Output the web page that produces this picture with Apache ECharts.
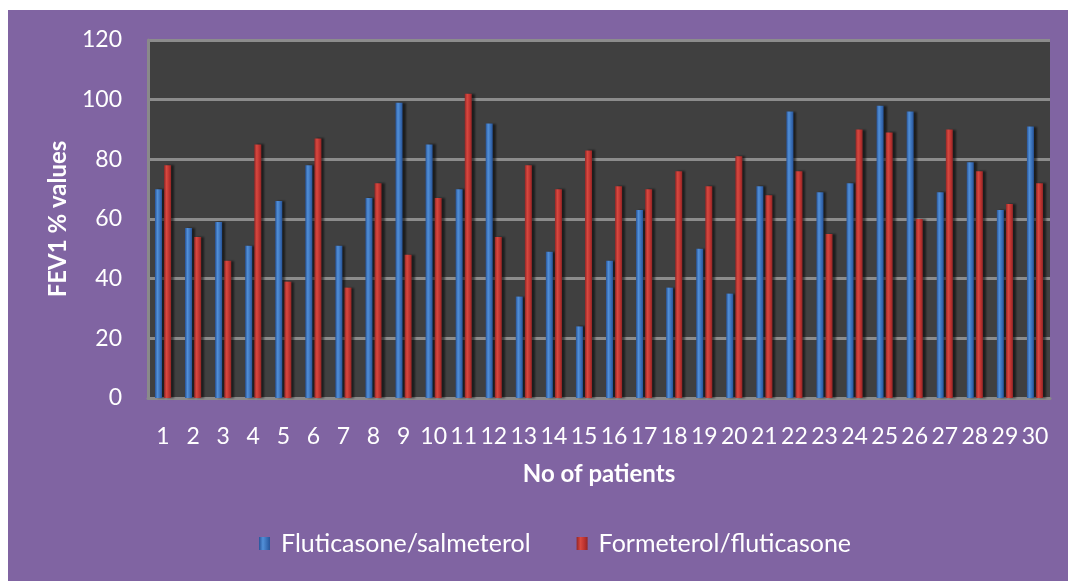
<!DOCTYPE html>
<html>
<head>
<meta charset="utf-8">
<script src="https://cdn.jsdelivr.net/npm/echarts@6/dist/echarts.min.js"></script>
<style>
  html, body { margin: 0; padding: 0; background: #ffffff; }
  #frame { position: absolute; left: 8px; top: 10px; width: 1060px; height: 571px; background: #8064a2; }
  #chart { position: absolute; left: 0; top: 0; width: 1068px; height: 581px; }
</style>
</head>
<body>
<div id="frame"></div>
<div id="chart"></div>
<script>
// FEV1 % values for 30 patients under two inhaler regimens
const patients = ['1','2','3','4','5','6','7','8','9','10','11','12','13','14','15','16','17','18','19','20','21','22','23','24','25','26','27','28','29','30'];
const fluticasoneSalmeterol = [70,57,59,51,66,78,51,67,99,85,70,92,34,49,24,46,63,37,50,35,71,96,69,72,98,96,69,79,63,91];
const formeterolFluticasone = [78,54,46,85,39,87,37,72,48,67,102,54,78,70,83,71,70,76,71,81,68,76,55,90,89,60,90,76,65,72];
const seriesNames = ['Fluticasone/salmeterol', 'Formeterol/fluticasone'];
const yTicks = { min: 0, max: 120, interval: 20 };

const FONT = 'Lato, "Open Sans", sans-serif';

function cylinder(dark, mid, light) {
  return new echarts.graphic.LinearGradient(0, 0, 1, 0, [
    { offset: 0, color: dark },
    { offset: 0.35, color: light },
    { offset: 0.7, color: mid },
    { offset: 1, color: dark }
  ]);
}

const blueFill = cylinder('#27549a', '#3a70b8', '#5290d8');
const redFill = cylinder('#942626', '#bd3330', '#d8483f');

const chart = echarts.init(document.getElementById('chart'), null, { renderer: 'canvas' });

chart.setOption({
  backgroundColor: 'transparent',
  animation: false,
  grid: {
    left: 148, right: 18, top: 40, bottom: 183,
    show: true, backgroundColor: '#404040', borderColor: '#8a8a8a', borderWidth: 0
  },
  legend: {
    bottom: 20,
    left: 254,
    itemWidth: 11,
    itemHeight: 13,
    itemGap: 46,
    icon: 'rect',
    textStyle: { color: '#ffffff', fontFamily: FONT, fontSize: 25, padding: [0, 0, 0, 6] },
    data: seriesNames
  },
  xAxis: {
    type: 'category',
    data: patients,
    name: 'No of patients',
    nameLocation: 'middle',
    nameGap: 64,
    nameTextStyle: { color: '#ffffff', fontFamily: FONT, fontSize: 24, fontWeight: 'bold' },
    axisLine: { show: true, lineStyle: { color: '#8a8a8a', width: 3 } },
    axisTick: { show: false },
    axisLabel: { interval: 0, color: '#ffffff', fontFamily: FONT, fontSize: 23, margin: 27 }
  },
  yAxis: {
    type: 'value',
    min: yTicks.min, max: yTicks.max, interval: yTicks.interval,
    name: 'FEV1 % values',
    nameLocation: 'middle',
    nameGap: 78,
    nameRotate: 90,
    nameTextStyle: { color: '#ffffff', fontFamily: FONT, fontSize: 24, fontWeight: 'bold' },
    axisLine: { show: true, lineStyle: { color: '#8a8a8a', width: 3 } },
    axisTick: { show: false },
    axisLabel: { color: '#ffffff', fontFamily: FONT, fontSize: 23, margin: 26 },
    splitLine: { show: true, lineStyle: { color: '#8c8c8c', width: 3 } }
  },
  series: [
    {
      name: seriesNames[0],
      type: 'bar',
      data: fluticasoneSalmeterol,
      barWidth: 7,
      barGap: '30%',
      itemStyle: { color: blueFill, shadowColor: 'rgba(0,0,0,0.55)', shadowOffsetX: 3, shadowOffsetY: 0, shadowBlur: 2 }
    },
    {
      name: seriesNames[1],
      type: 'bar',
      data: formeterolFluticasone,
      barWidth: 7,
      itemStyle: { color: redFill, shadowColor: 'rgba(0,0,0,0.55)', shadowOffsetX: 3, shadowOffsetY: 0, shadowBlur: 2 }
    }
  ]
});
</script>
</body>
</html>
